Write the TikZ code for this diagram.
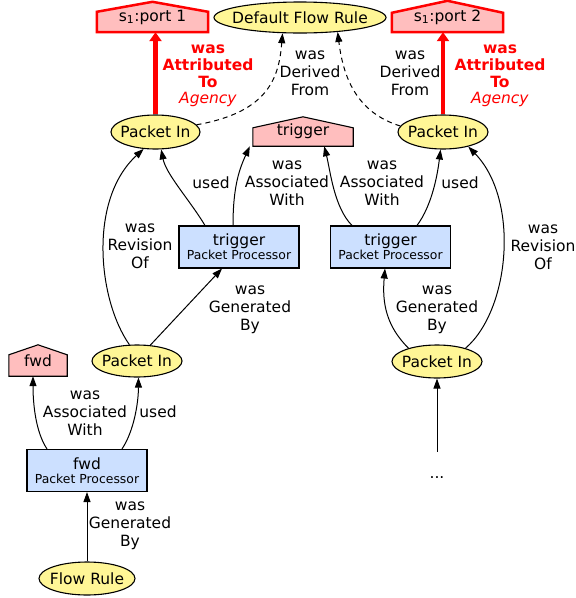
\documentclass[tikz,border=0pt]{standalone}
\usepackage{fontspec}
\setmainfont{DejaVu Sans}
\usetikzlibrary{arrows.meta,backgrounds,calc,shapes.geometric}
\definecolor{entfill}{RGB}{255,246,150}
\definecolor{actfill}{RGB}{204,224,255}
\definecolor{agfill}{RGB}{255,190,190}
\newcommand\mainfs{\fontsize{15.5}{18}\selectfont}
\newcommand\smallfs{\fontsize{12.4}{14}\selectfont}
\newcommand\redfs{\fontsize{15.5}{16.7}\selectfont}
\begin{document}
\begin{tikzpicture}[x=1pt,y=-1pt,font=\mainfs,
  entnode/.style={ellipse, draw, fill=entfill, line width=1.1pt, inner sep=0pt},
  actnode/.style={rectangle, draw, fill=actfill, line width=1.1pt, inner sep=0pt,
                  minimum width=120pt, minimum height=42pt, align=center},
  agentnode/.style={rectangle, inner sep=0pt},
  edgelbl/.style={align=center, inner sep=0pt},
  reledge/.style={line width=1pt, -{Triangle[length=10pt,width=7pt]}},
  deredge/.style={reledge, dash pattern=on 5pt off 4pt},
  attredge/.style={draw=red, line width=4.5pt, -{Triangle[length=9pt,width=12pt]}},
  agentred/.style={draw=red, line width=2.5pt, fill=agfill, line join=miter},
  agentblk/.style={draw=black, line width=1.1pt, fill=agfill, line join=miter},
]
\useasboundingbox (0,0) rectangle (576,598);

% entities
\node[entnode, minimum width=172pt, minimum height=31pt] (dfr) at (300,17.5) {\makebox[0pt]{Default Flow Rule}};
\node[entnode, minimum width=89pt, minimum height=34pt] (ptl) at (155.5,132) {\makebox[0pt]{Packet In}};
\node[entnode, minimum width=90pt, minimum height=34pt] (ptr) at (443,132) {\makebox[0pt]{Packet In}};
\node[entnode, minimum width=90pt, minimum height=32pt] (pml) at (137,361) {\makebox[0pt]{Packet In}};
\node[entnode, minimum width=90pt, minimum height=33pt] (pmr) at (437,361.5) {\makebox[0pt]{Packet In}};
\node[entnode, minimum width=96pt, minimum height=33pt] (flow) at (87,578.5) {\makebox[0pt]{Flow Rule}};

% activities
\node[actnode] (tbl) at (239,247) {trigger\\[-4pt]{\smallfs Packet Processor}};
\node[actnode] (tbr) at (390.5,247) {trigger\\[-4pt]{\smallfs Packet Processor}};
\node[actnode] (fb) at (87,470.5) {fwd\\[-4pt]{\smallfs Packet Processor}};

% agents
\node[agentnode, minimum width=111pt, text height=9pt, text depth=11pt, anchor=base] (port1) at (152.5,21) {s\textsubscript{1}:port 1};
\node[agentnode, minimum width=111pt, text height=8pt, text depth=11pt, anchor=base] (port2) at (447.5,21) {s\textsubscript{1}:port 2};
\node[agentnode, minimum width=100pt, text height=7pt, text depth=11pt, anchor=base] (trig) at (303,135) {trigger};
\node[agentnode, minimum width=58pt, text height=11pt, text depth=10pt, anchor=base] (fwdh) at (38,366) {fwd};

\begin{scope}[on background layer]
\draw[agentred] (port1.south west) -- (port1.south east) -- (port1.north east) -- ($(port1.north)+(0,-10)$) -- (port1.north west) -- cycle;
\draw[agentred] (port2.south west) -- (port2.south east) -- (port2.north east) -- ($(port2.north)+(0,-12)$) -- (port2.north west) -- cycle;
\draw[agentblk] (trig.south west) -- (trig.south east) -- (trig.north east) -- ($(trig.north)+(0,-11)$) -- (trig.north west) -- cycle;
\draw[agentblk] (fwdh.south west) -- (fwdh.south east) -- (fwdh.north east) -- ($(fwdh.north)+(0,-10)$) -- (fwdh.north west) -- cycle;
\end{scope}

\node[inner sep=0pt, anchor=base, text height=26pt] (dots) at (437,478) {...};

% edges
\draw[attredge] (ptl.north) -- (ptl.north |- port1.south);
\draw[attredge] (ptr.north) -- (ptr.north |- port2.south);
\draw[deredge] (ptl.10) .. controls (270,112) and (279,76) .. (dfr.-138);
\draw[deredge] (ptr.172) .. controls (355,112) and (343,75) .. (dfr.-21);
\draw[reledge] ([xshift=-34pt]tbl.north) .. controls +(-15,-25) and +(5,25) .. (ptl.-72);
\draw[reledge] ([xshift=-6pt]tbl.north) .. controls +(0,-40) and +(-10,22) .. ([xshift=-3pt]trig.south west);
\draw[reledge] ([xshift=-38.5pt]tbr.north) .. controls +(-18,-18) and +(6,24) .. ([xshift=-29pt]trig.south east);
\draw[reledge] ([xshift=26.5pt]tbr.north) .. controls +(15,-20) and +(-3,25) .. (ptr.-98);
\draw[reledge] (pml.115) .. controls (98,300) and (88,200) .. (ptl.-125);
\draw[reledge] (pml.50) -- ([xshift=-17pt]tbl.south);
\draw[reledge] ([xshift=-40pt]fb.north) .. controls +(-12,-18) and +(0,25) .. ([xshift=-5pt]fwdh.south);
\draw[reledge] ([xshift=35pt]fb.north) .. controls +(12,-18) and +(0,25) .. (pml.-85);
\draw[reledge] (flow.north) -- (fb.south);
\draw[reledge] (pmr.155) .. controls +(-22,-22) and +(-3,35) .. ([xshift=-5.5pt]tbr.south);
\draw[reledge] (pmr.25) .. controls (510,310) and (520,200) .. (ptr.-30);
\draw[reledge] (dots.north) -- (pmr.south);

% labels
\node[edgelbl, text=red, font=\redfs] (lattr1) at (208,76) {\textbf{was}\\\textbf{Attributed}\\\textbf{To}\\\textit{Agency}};
\node[edgelbl, text=red, font=\redfs] (lattr2) at (500,76) {\textbf{was}\\\textbf{Attributed}\\\textbf{To}\\\textit{Agency}};
\node[edgelbl] (lder1) at (310,73.5) {was\\Derived\\From};
\node[edgelbl] (lder2) at (410,73.5) {was\\Derived\\From};
\node[edgelbl] (lused1) at (211,183) {used};
\node[edgelbl] (lused2) at (460,183) {used};
\node[edgelbl] (lassoc1) at (287,183) {was\\Associated\\With};
\node[edgelbl] (lassoc2) at (382,183) {was\\Associated\\With};
\node[edgelbl] (lrev1) at (140,246) {was\\Revision\\Of};
\node[edgelbl] (lrev2) at (543,247) {was\\Revision\\Of};
\node[edgelbl] (lgen1) at (250,310) {was\\Generated\\By};
\node[edgelbl] (lgen2) at (437,310) {was\\Generated\\By};
\node[edgelbl] (lassoc3) at (85,413) {was\\Associated\\With};
\node[edgelbl] (lused3) at (158,412) {used};
\node[edgelbl] (lgen3) at (130,526) {was\\Generated\\By};
\end{tikzpicture}
\end{document}
